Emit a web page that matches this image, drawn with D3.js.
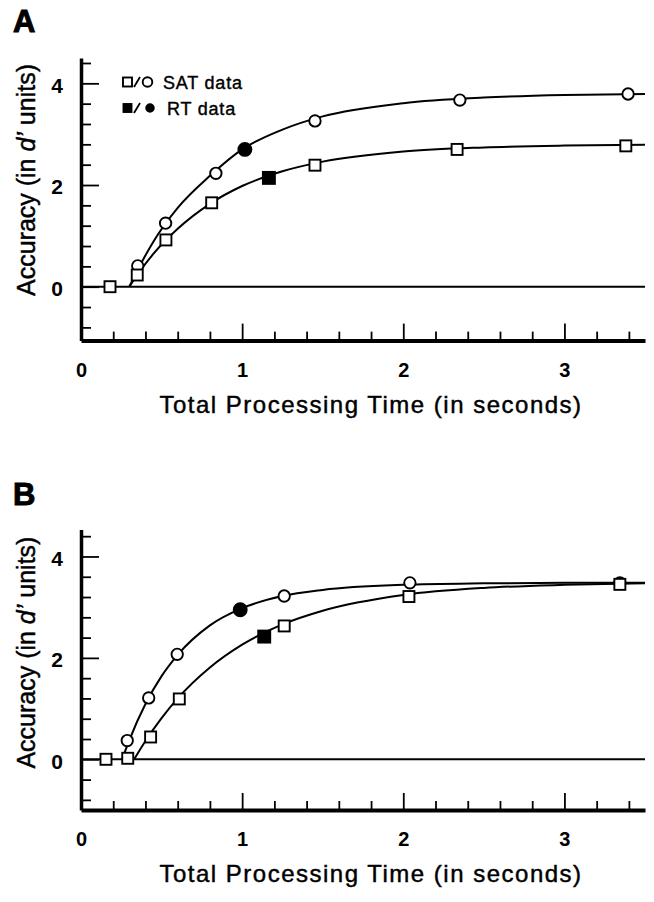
<!DOCTYPE html>
<html><head><meta charset="utf-8">
<script src="https://cdn.jsdelivr.net/npm/d3@7"></script>
<style>
body{margin:0;background:#fff}
svg{display:block}
text{font-family:"Liberation Sans",Arial,Helvetica,sans-serif;fill:#000}
</style>
</head><body>
<svg id="c" width="654" height="902"></svg>
<script>
// ---------- shared ticks / text ----------
const xMajorTicks = [0, 1, 2, 3];
const xMinorTicks = [0.2, 0.4, 0.6, 0.8, 1.2, 1.4, 1.6, 1.8, 2.2, 2.4, 2.6, 2.8, 3.2, 3.4];
const yMajorTicks = [0, 2, 4];
const yMinorTicks = [-0.8, -0.4, 0.4, 0.8, 1.2, 1.6, 2.4, 2.8, 3.2, 3.6, 4.4];
const xTitle = "Total Processing Time (in seconds)";
const legendLabels = ["SAT data", "RT data"];
const panelLabels = ["A", "B"];

// ---------- Panel A ----------
const aSatCircleT = [0.352, 0.525, 0.837, 1.452, 2.351, 3.395];
const aSatCircleD = [0.41, 1.25, 2.23, 3.26, 3.67, 3.79];
const aSatSquareT = [0.18, 0.349, 0.527, 0.811, 1.452, 2.334, 3.381];
const aSatSquareD = [0.0, 0.23, 0.92, 1.65, 2.39, 2.70, 2.77];
const aRtCircleT = [1.017];
const aRtCircleD = [2.70];
const aRtSquareT = [1.166];
const aRtSquareD = [2.14];
const aFitCircleT = [0.30, 0.35, 0.45, 0.6, 0.8, 1.0, 1.25, 1.5, 2.0, 2.5, 3.0, 3.5];
const aFitCircleD = [0.0, 0.32, 0.89, 1.55, 2.18, 2.70, 3.09, 3.35, 3.61, 3.72, 3.77, 3.79];
const aFitSquareT = [0.30, 0.35, 0.45, 0.6, 0.8, 1.0, 1.25, 1.5, 2.0, 2.5, 3.0, 3.5];
const aFitSquareD = [0.0, 0.235, 0.65, 1.14, 1.63, 1.98, 2.27, 2.46, 2.66, 2.74, 2.775, 2.79];

// ---------- Panel B ----------
const bSatCircleT = [0.287, 0.42, 0.597, 1.261, 2.041, 3.344];
const bSatCircleD = [0.37, 1.21, 2.07, 3.22, 3.48, 3.48];
const bSatSquareT = [0.155, 0.29, 0.432, 0.61, 1.261, 2.035, 3.344];
const bSatSquareD = [0.0, 0.02, 0.44, 1.19, 2.63, 3.21, 3.45];
const bRtCircleT = [0.988];
const bRtCircleD = [2.95];
const bRtSquareT = [1.137];
const bRtSquareD = [2.42];
const bFitCircleT = [0.255, 0.3, 0.4, 0.5, 0.6, 0.8, 1.0, 1.25, 1.5, 2.0, 2.5, 3.0, 3.5];
const bFitCircleD = [0.0, 0.38, 1.09, 1.64, 2.06, 2.64, 2.98, 3.22, 3.34, 3.44, 3.47, 3.48, 3.48];
const bFitSquareT = [0.33, 0.4, 0.5, 0.6, 0.8, 1.0, 1.25, 1.5, 2.0, 2.5, 3.0, 3.5];
const bFitSquareD = [0.0, 0.36, 0.81, 1.20, 1.81, 2.26, 2.66, 2.93, 3.24, 3.38, 3.44, 3.47];

const zip = (t, d) => t.map((v, i) => [v, d[i]]);

const panels = [
  { label: panelLabels[0], yDomain: [-1.06, 4.5], yRange: [340.6, 57.9], labelY: 32, legend: true,
    satC: zip(aSatCircleT, aSatCircleD), satS: zip(aSatSquareT, aSatSquareD),
    rtC: zip(aRtCircleT, aRtCircleD), rtS: zip(aRtSquareT, aRtSquareD),
    fitC: zip(aFitCircleT, aFitCircleD), fitS: zip(aFitSquareT, aFitSquareD) },
  { label: panelLabels[1], yDomain: [-1.0, 4.53], yRange: [810, 529.6], labelY: 505, legend: false,
    satC: zip(bSatCircleT, bSatCircleD), satS: zip(bSatSquareT, bSatSquareD),
    rtC: zip(bRtCircleT, bRtCircleD), rtS: zip(bRtSquareT, bRtSquareD),
    fitC: zip(bFitCircleT, bFitCircleD), fitS: zip(bFitSquareT, bFitSquareD) }
];

const svg = d3.select("#c");
const x = d3.scaleLinear().domain([0, 3.5]).range([81, 645]);

function drawSquare(g, cx, cy, s, filled) {
  g.append("rect").attr("x", cx - s / 2).attr("y", cy - s / 2).attr("width", s).attr("height", s)
    .attr("fill", filled ? "#000" : "#fff").attr("stroke", "#000").attr("stroke-width", 1.9);
}
function drawCircle(g, cx, cy, r, filled) {
  g.append("circle").attr("cx", cx).attr("cy", cy).attr("r", r)
    .attr("fill", filled ? "#000" : "#fff").attr("stroke", "#000").attr("stroke-width", 1.9);
}

panels.forEach(p => {
  const y = d3.scaleLinear().domain(p.yDomain).range(p.yRange);
  const g = svg.append("g");
  const x0 = x(0), yBot = y(p.yDomain[0]);

  // panel letter
  g.append("text").attr("x", 13).attr("y", p.labelY).attr("font-size", 31).attr("font-weight", "bold")
    .attr("stroke", "#000").attr("stroke-width", 1).text(p.label);

  // Y axis minor ticks
  g.append("g").attr("transform", `translate(${x0},0)`)
    .call(d3.axisLeft(y).tickValues(yMinorTicks).tickSizeInner(-10).tickSizeOuter(0).tickFormat(""))
    .call(s => s.select(".domain").remove())
    .call(s => s.selectAll("line").attr("stroke-width", 1.8));
  // Y axis major ticks + labels
  g.append("g").attr("transform", `translate(${x0},0)`)
    .call(d3.axisLeft(y).tickValues(yMajorTicks).tickSizeInner(-18).tickSizeOuter(0).tickPadding(18).tickFormat(d3.format("d")))
    .call(s => s.select(".domain").attr("stroke-width", 3.5))
    .call(s => s.selectAll("line").attr("stroke-width", 1.8))
    .call(s => s.selectAll("text").attr("font-size", 21).attr("font-weight", "bold").attr("font-family", null).attr("dy", "0.42em"));

  // X axis minor
  g.append("g").attr("transform", `translate(0,${yBot})`)
    .call(d3.axisBottom(x).tickValues(xMinorTicks).tickSizeInner(-9).tickSizeOuter(0).tickFormat(""))
    .call(s => s.select(".domain").remove())
    .call(s => s.selectAll("line").attr("stroke-width", 1.8));
  // X axis major
  g.append("g").attr("transform", `translate(0,${yBot})`)
    .call(d3.axisBottom(x).tickValues(xMajorTicks).tickSizeInner(-17).tickSizeOuter(0).tickPadding(22).tickFormat(d3.format("d")))
    .call(s => s.select(".domain").attr("stroke-width", 4))
    .call(s => s.selectAll("line").attr("stroke-width", 1.8))
    .call(s => s.selectAll("text").attr("font-size", 20).attr("font-weight", "bold").attr("font-family", null));

  // X title
  g.append("text").attr("x", 371).attr("y", yBot + 72).attr("text-anchor", "middle")
    .attr("font-size", 24).attr("letter-spacing", 1.5).attr("stroke", "#000").attr("stroke-width", 0.45).text(xTitle);

  // Y title
  const yt = g.append("text").attr("transform", `translate(35,${y(0) - 106.7}) rotate(-90)`)
    .attr("text-anchor", "middle").attr("font-size", 25).attr("stroke", "#000").attr("stroke-width", 0.45);
  yt.append("tspan").text("Accuracy (in ");
  yt.append("tspan").attr("font-style", "italic").text("d’");
  yt.append("tspan").text(" units)");

  // zero line
  g.append("line").attr("x1", x0).attr("x2", x(3.5)).attr("y1", y(0)).attr("y2", y(0))
    .attr("stroke", "#000").attr("stroke-width", 2);

  // fitted curves
  const line = d3.line().x(d => x(d[0])).y(d => y(d[1])).curve(d3.curveMonotoneX);
  [p.fitC, p.fitS].forEach(f => {
    g.append("path").attr("d", line(f)).attr("fill", "none").attr("stroke", "#000").attr("stroke-width", 2);
  });

  // markers
  p.satC.forEach(d => drawCircle(g, x(d[0]), y(d[1]), 5.7, false));
  p.satS.forEach(d => drawSquare(g, x(d[0]), y(d[1]), 11, false));
  p.rtC.forEach(d => drawCircle(g, x(d[0]), y(d[1]), 6.5, true));
  p.rtS.forEach(d => drawSquare(g, x(d[0]), y(d[1]), 12, true));

  // legend
  if (p.legend) {
    const lg = g.append("g");
    drawSquare(lg, 127.5, 82, 9, false);
    lg.append("line").attr("x1", 134).attr("y1", 87).attr("x2", 140).attr("y2", 77).attr("stroke", "#000").attr("stroke-width", 1.8);
    drawCircle(lg, 147.5, 82, 4.8, false);
    lg.append("text").attr("x", 163).attr("y", 88.5).attr("font-size", 18).attr("letter-spacing", 0.8)
      .attr("stroke", "#000").attr("stroke-width", 0.4).text(legendLabels[0]);
    drawSquare(lg, 127.5, 108, 8, true);
    lg.append("line").attr("x1", 134).attr("y1", 113).attr("x2", 140).attr("y2", 103).attr("stroke", "#000").attr("stroke-width", 1.8);
    drawCircle(lg, 150, 108, 3.8, true);
    lg.append("text").attr("x", 167).attr("y", 114.5).attr("font-size", 18).attr("letter-spacing", 0.8)
      .attr("stroke", "#000").attr("stroke-width", 0.4).text(legendLabels[1]);
  }
});
</script>
</body></html>
